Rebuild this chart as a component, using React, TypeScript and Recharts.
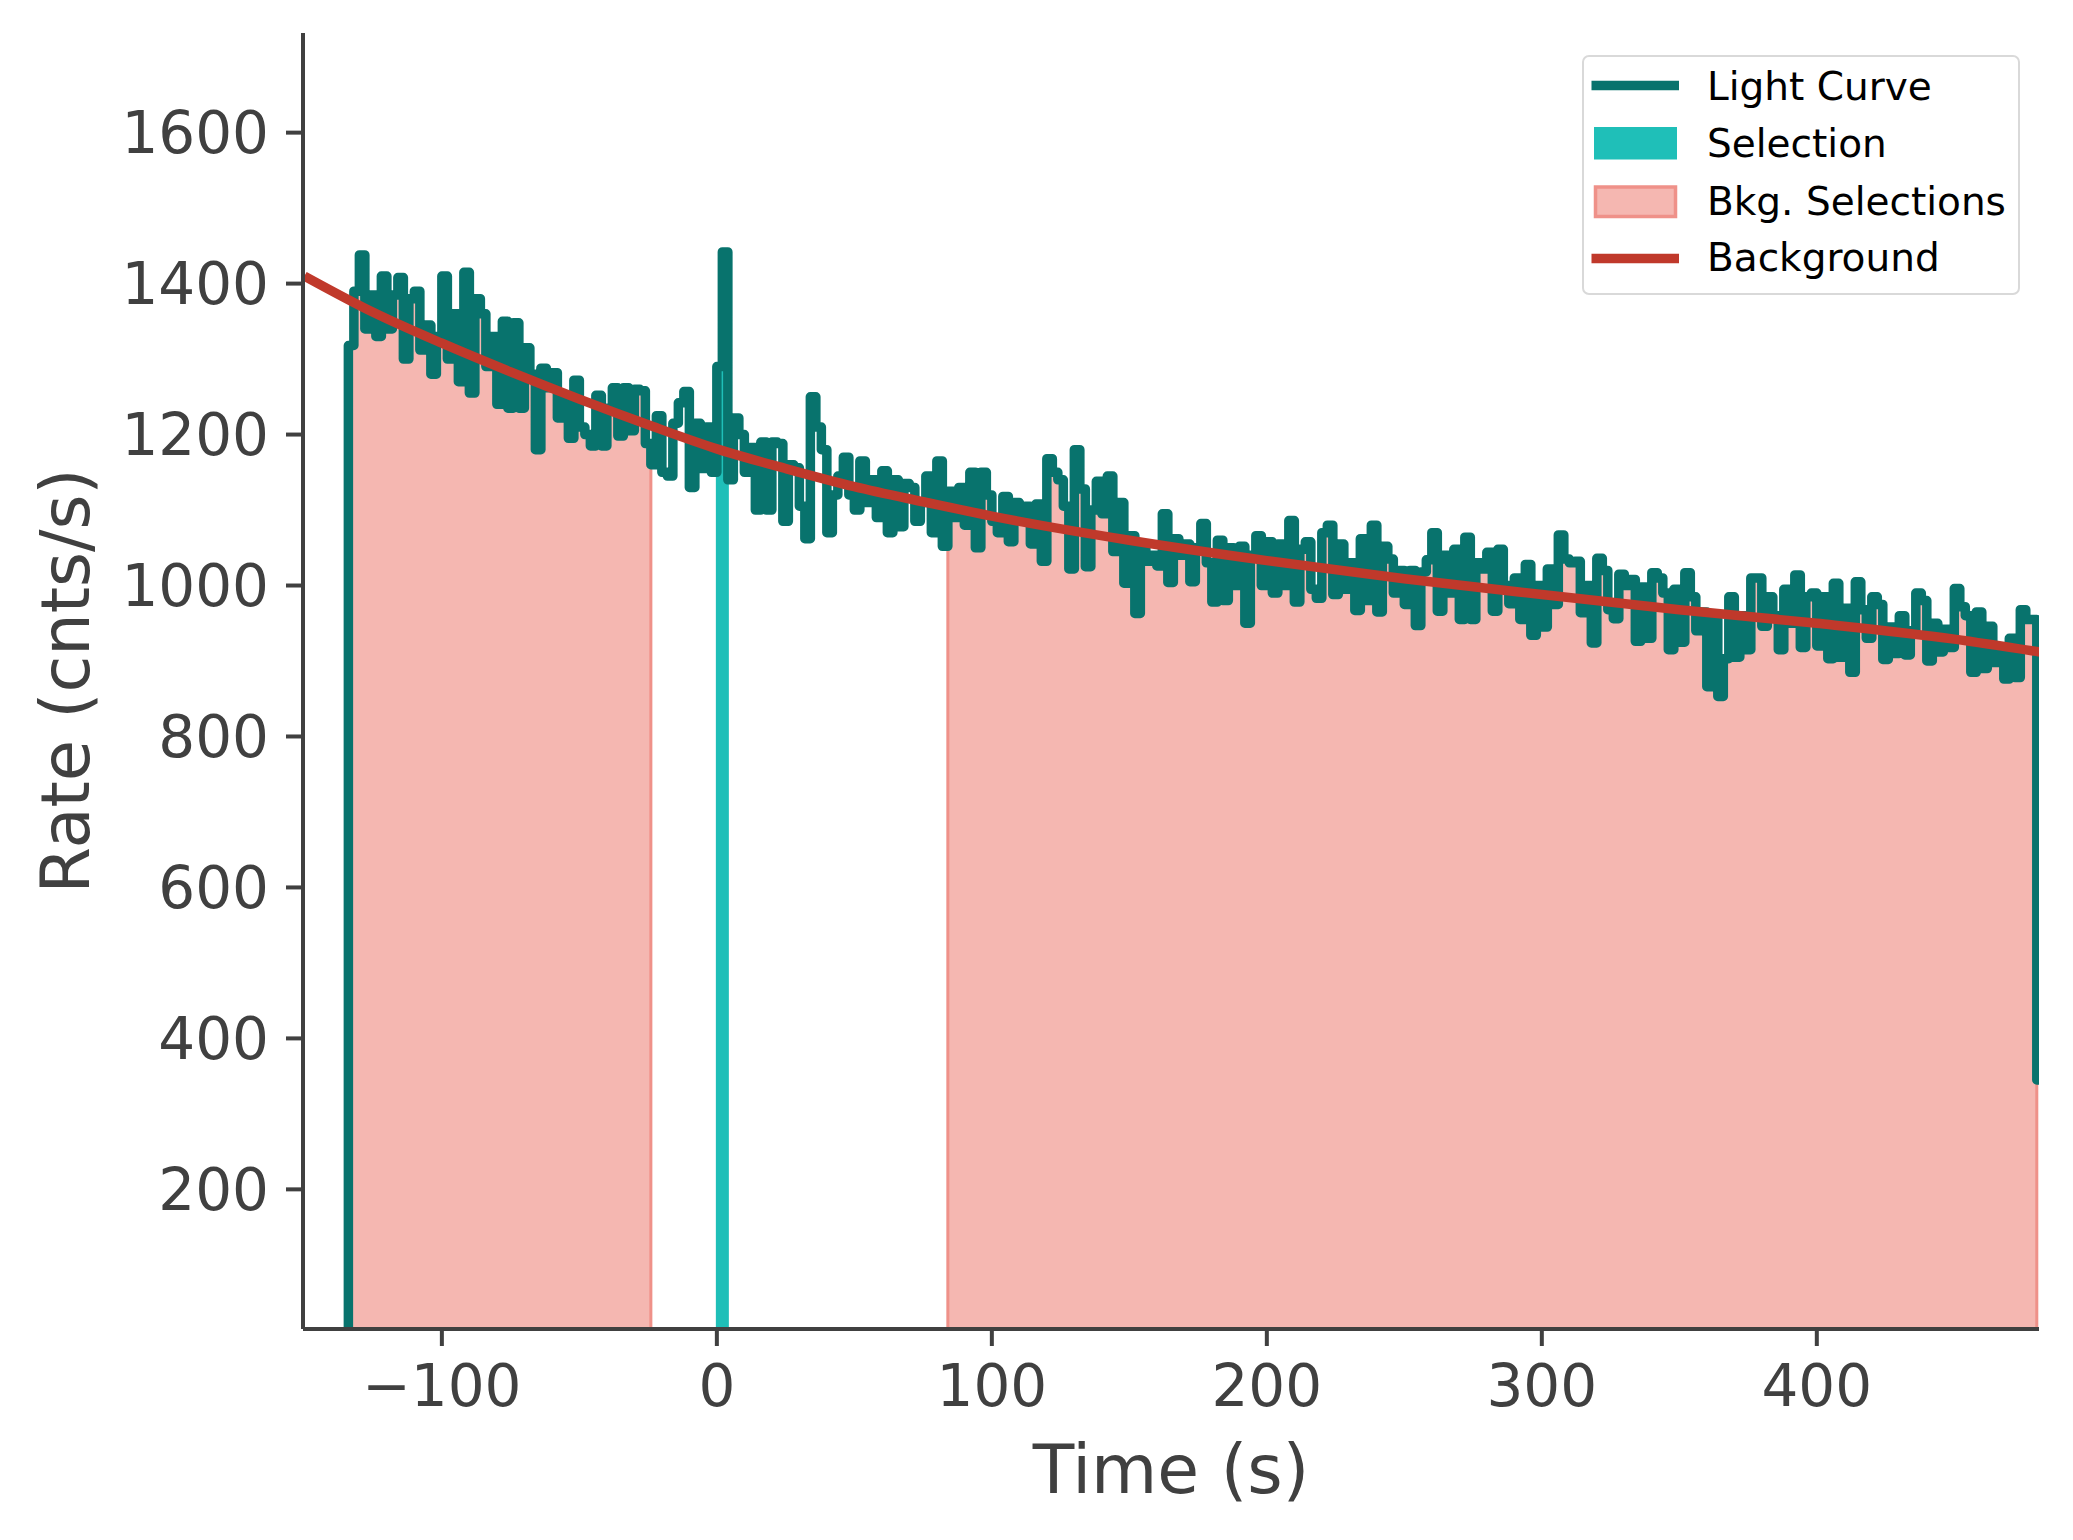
import { ComposedChart, Line, Area, XAxis, YAxis } from 'recharts';

// light curve: 2 s bins starting at LC_START, last bin (480 s) is partial
const LC_START = -134;
const LC_BIN = 2;
const lcRates = [
  1318, 1390, 1438, 1340, 1385, 1330, 1410, 1340, 1385, 1408,
  1300, 1380, 1390, 1312, 1345, 1280, 1330, 1410, 1300, 1360,
  1270, 1415, 1255, 1380, 1360, 1290, 1330, 1240, 1350, 1235,
  1348, 1235, 1315, 1280, 1180, 1288, 1262, 1282, 1222, 1250,
  1195, 1272, 1210, 1200, 1185, 1252, 1185, 1235, 1262, 1198,
  1262, 1205, 1260, 1258, 1188, 1160, 1225, 1150, 1145, 1215,
  1242, 1257, 1130, 1215, 1155, 1210, 1150, 1290, 1442, 1140,
  1222, 1200, 1150, 1183, 1100, 1190, 1100, 1190, 1188, 1085,
  1160, 1156, 1105, 1062, 1250, 1210, 1180, 1070, 1120, 1145,
  1170, 1120, 1100, 1165, 1110, 1140, 1090, 1152, 1070, 1140,
  1078, 1135, 1130, 1085, 1110, 1145, 1070, 1165, 1052, 1125,
  1090, 1130, 1080, 1150, 1050, 1150, 1120, 1085, 1070, 1118,
  1058, 1110, 1090, 1105, 1055, 1108, 1032, 1168, 1150, 1140,
  1105, 1022, 1180, 1128, 1025, 1100, 1138, 1095, 1145, 1045,
  1110, 1003, 1066, 963, 1050, 1032, 1040, 1026, 1095, 1004,
  1062, 1040, 1055, 1005, 1050, 1082, 1030, 978, 1060, 980,
  1050, 1000, 1052, 950, 1040, 1066, 1000, 1058, 990, 1055,
  1000, 1086, 978, 1048, 1058, 995, 983, 1070, 1080, 988,
  1055, 995, 1030, 967, 1062, 980, 1080, 965, 1052, 1035,
  990, 1020, 975, 1020, 947, 1018, 1034, 1070, 966, 1040,
  990, 1048, 955, 1064, 955, 1030, 1022, 1044, 966, 1048,
  1000, 976, 1010, 955, 1028, 934, 1000, 945, 1022, 975,
  1067, 1035, 1030, 1032, 964, 1000, 924, 1036, 1020, 968,
  956, 1015, 1000, 1008, 926, 998, 930, 1017, 1010, 990,
  915, 995, 925, 1017, 985, 940, 965, 866, 960, 853,
  903, 985, 905, 960, 915, 1010, 1010, 946, 985, 960,
  915, 995, 950, 1014, 918, 985, 990, 920, 985, 903,
  1003, 905, 970, 885, 1005, 968, 930, 985, 975, 902,
  945, 910, 960, 908, 940, 990, 980, 900, 950, 912,
  942, 918, 996, 972, 960, 885, 965, 890, 946, 898,
  915, 876, 930, 878, 968, 955, 955, 345,
];
const LC_END = 484;

const selRange: [number, number] = [0, 4];
const bkgRanges: [number, number][] = [[-134, -24], [84, 480]];

const bgTimes = [-150, -125, -100, -75, -50, -25, 0, 25, 50, 75, 100, 150, 200, 250, 300, 350, 400, 450, 481];
const bgRates = [1410, 1362, 1321, 1283, 1247, 1213, 1181, 1155, 1131, 1111, 1092, 1060, 1033, 1009, 988, 968, 950, 929, 912];

const xTicks = [-100, 0, 100, 200, 300, 400];
const yTicks = [200, 400, 600, 800, 1000, 1200, 1400, 1600];
const X_DOMAIN: [number, number] = [-150.5, 480.8];
const Y_DOMAIN: [number, number] = [15, 1732];

const legendLabels = ['Light Curve', 'Selection', 'Bkg. Selections', 'Background'];

const TEAL_DARK = '#08736d';
const TEAL_LIGHT = '#1fbfb8';
const PINK = '#f5b7b1';
const PINK_EDGE = '#ef9189';
const RED = '#c0392b';
const AXIS = '#404040';
const FONT = "'DejaVu Sans', sans-serif";

const lcBins = lcRates.map((rate, i) => ({ t: LC_START + i * LC_BIN, rate }));
const lcData = [{ t: LC_START - LC_BIN, rate: 0 }, ...lcBins, { t: LC_END, rate: lcRates[lcRates.length - 1] }];

function rangeData([a, b]: [number, number]) {
  const inside = lcBins.filter((d) => d.t >= a && d.t < b);
  return [
    { t: a, rate: Y_DOMAIN[0] },
    ...inside,
    { t: b, rate: inside[inside.length - 1].rate },
    { t: b, rate: Y_DOMAIN[0] },
  ];
}

const bgData = bgTimes.map((t, i) => ({ t, bg: bgRates[i] }));

const fmtX = (v: number) => (v < 0 ? '\u2212' + Math.abs(v) : String(v));

function YLabel(props: any) {
  const vb = props.viewBox || {};
  const cx = (vb.x ?? 0) + 66;
  const cy = (vb.y ?? 33) + (vb.height ?? 1296) / 2;
  return (
    <text
      x={cx}
      y={cy}
      transform={`rotate(-90, ${cx}, ${cy})`}
      textAnchor="middle"
      dominantBaseline="central"
      fontSize={67}
      fontFamily={FONT}
      fill={AXIS}
    >
      Rate (cnts/s)
    </text>
  );
}

function LegendBox() {
  const rowsBase = [42.5, 100, 157.5, 214];
  const textStyle = { fontSize: 39, fontFamily: FONT, fill: '#000' };
  return (
    <div
      style={{
        position: 'absolute',
        left: 1582,
        top: 55,
        width: 438,
        height: 240,
        boxSizing: 'border-box',
        border: '2.7px solid #d9d9d9',
        borderRadius: 7,
        background: 'rgba(255,255,255,0.85)',
      }}
    >
      <svg width={433} height={235} style={{ display: 'block' }}>
        <line x1={7.5} x2={95} y1={28.5} y2={28.5} stroke={TEAL_DARK} strokeWidth={9.5} />
        <rect x={10} y={70} width={83} height={32.5} fill={TEAL_LIGHT} />
        <rect x={11.5} y={130} width={80} height={29.5} fill={PINK} stroke={PINK_EDGE} strokeWidth={3.5} />
        <line x1={7.5} x2={95} y1={201.5} y2={201.5} stroke={RED} strokeWidth={9.5} />
        {legendLabels.map((lab, i) => (
          <text key={lab} x={123} y={rowsBase[i]} {...textStyle}>
            {lab}
          </text>
        ))}
      </svg>
    </div>
  );
}

export default function App() {
  return (
    <div style={{ position: 'absolute', left: 0, top: 0, width: 2073, height: 1540, background: '#fff' }}>
      <ComposedChart width={2073} height={1540} margin={{ top: 33, right: 34, bottom: 0, left: 0 }}>
        <XAxis
          type="number"
          dataKey="t"
          domain={X_DOMAIN}
          ticks={xTicks}
          allowDataOverflow
          height={211}
          tickFormatter={fmtX}
          tick={{ fontSize: 58, fill: AXIS, fontFamily: FONT }}
          tickSize={17}
          tickMargin={19}
          tickLine={{ stroke: AXIS, strokeWidth: 4 }}
          axisLine={{ stroke: AXIS, strokeWidth: 4 }}
          label={{ value: 'Time (s)', position: 'insideBottom', offset: 47, fontSize: 68, fill: AXIS, fontFamily: FONT }}
        />
        <YAxis
          type="number"
          domain={Y_DOMAIN}
          ticks={yTicks}
          allowDataOverflow
          width={303}
          tick={{ fontSize: 58, fill: AXIS, fontFamily: FONT }}
          tickSize={17}
          tickMargin={17}
          tickLine={{ stroke: AXIS, strokeWidth: 4 }}
          axisLine={{ stroke: AXIS, strokeWidth: 4 }}
          label={<YLabel />}
        />
        {bkgRanges.map((r, i) => (
          <Area
            key={'bkg' + i}
            data={rangeData(r)}
            dataKey="rate"
            type="stepAfter"
            baseValue={Y_DOMAIN[0]}
            fill={PINK}
            fillOpacity={1}
            stroke={PINK_EDGE}
            strokeWidth={3}
            isAnimationActive={false}
            dot={false}
            activeDot={false}
          />
        ))}
        <Area
          data={rangeData(selRange)}
          dataKey="rate"
          type="stepAfter"
          baseValue={Y_DOMAIN[0]}
          fill={TEAL_LIGHT}
          fillOpacity={1}
          stroke={TEAL_LIGHT}
          strokeWidth={2}
          isAnimationActive={false}
          dot={false}
          activeDot={false}
        />
        <Line
          data={lcData}
          dataKey="rate"
          type="stepAfter"
          stroke={TEAL_DARK}
          strokeWidth={9.5}
          strokeLinejoin="round"
          strokeLinecap="round"
          dot={false}
          activeDot={false}
          isAnimationActive={false}
        />
        <Line
          data={bgData}
          dataKey="bg"
          type="monotone"
          stroke={RED}
          strokeWidth={9.5}
          dot={false}
          activeDot={false}
          isAnimationActive={false}
        />
      </ComposedChart>
      <LegendBox />
    </div>
  );
}
